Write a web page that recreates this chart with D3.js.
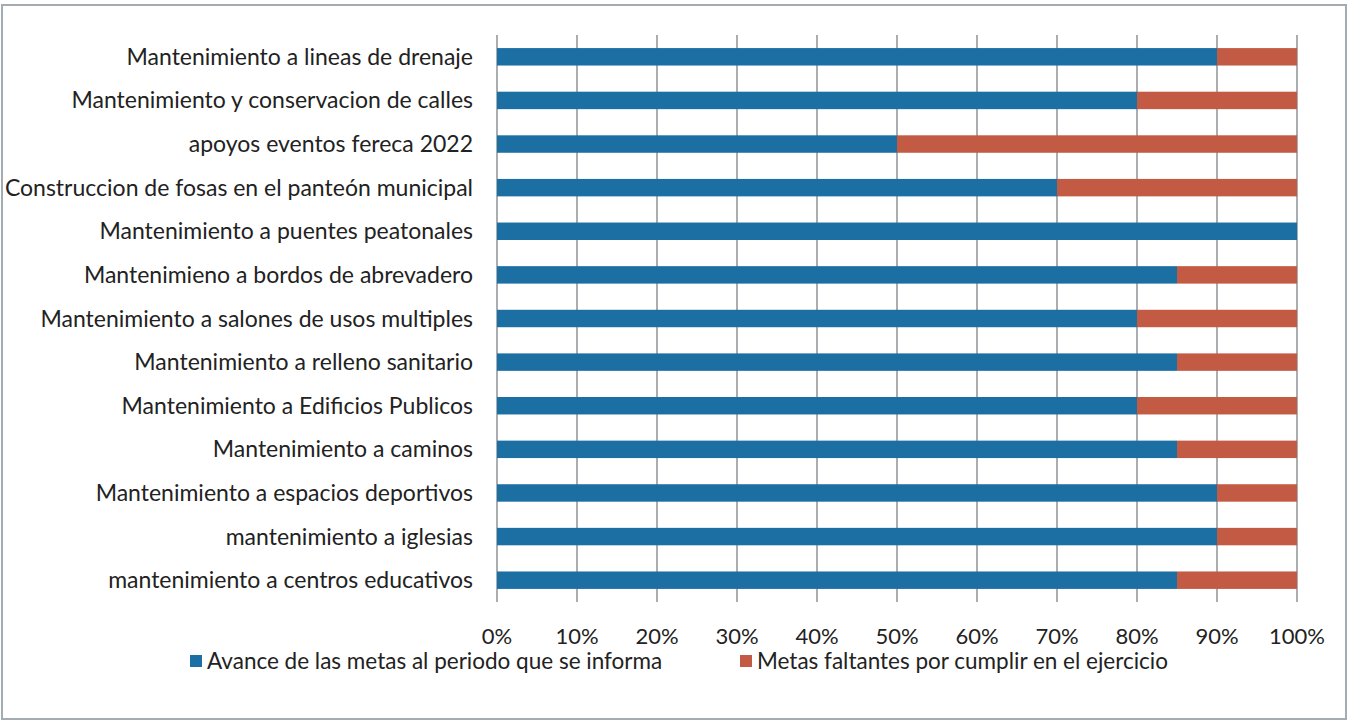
<!DOCTYPE html>
<html><head><meta charset="utf-8">
<script src="https://cdn.jsdelivr.net/npm/d3@7"></script>
<style>body{margin:0;background:#fff;} svg{display:block;}</style>
</head><body>
<svg id="c" width="1356" height="723"></svg>
<script>
const categories = [
  "Mantenimiento a lineas de drenaje",
  "Mantenimiento y conservacion de calles",
  "apoyos eventos fereca 2022",
  "Construccion de fosas en el panteón municipal",
  "Mantenimiento a puentes peatonales",
  "Mantenimieno a bordos de abrevadero",
  "Mantenimiento a salones de usos multiples",
  "Mantenimiento a relleno sanitario",
  "Mantenimiento a Edificios Publicos",
  "Mantenimiento a caminos",
  "Mantenimiento a espacios deportivos",
  "mantenimiento a iglesias",
  "mantenimiento a centros educativos"
];
const avance =    [90, 80, 50, 70, 100, 85, 80, 85, 80, 85, 90, 90, 85];
const faltantes = [10, 20, 50, 30, 0, 15, 20, 15, 20, 15, 10, 10, 15];
const seriesNames = ["Avance de las metas al periodo que se informa", "Metas faltantes por cumplir en el ejercicio"];
const tickValues = [0,10,20,30,40,50,60,70,80,90,100];

const colors = ["#1b6fa3", "#c35a44"];
const font = "Lato, 'Open Sans', sans-serif";
const textColor = "#222";
const svg = d3.select("#c");

svg.append("rect").attr("x",2).attr("y",5).attr("width",1344).attr("height",714)
  .attr("fill","#fff").attr("stroke","#a4acb3").attr("stroke-width",2);

const x = d3.scaleLinear().domain([0,100]).range([497,1297]);
const y = d3.scaleBand().domain(categories).range([35,602]).paddingInner(0.6).paddingOuter(0.3);

// gridlines
svg.append("g").selectAll("line").data(tickValues).join("line")
  .attr("x1",d=>x(d)).attr("x2",d=>x(d)).attr("y1",35).attr("y2",602)
  .attr("stroke","#8f9397").attr("stroke-width",1.5);

const rows = categories.map((c,i)=>({c, a:avance[i], f:faltantes[i]}));
const g = svg.append("g");
g.selectAll("rect.a").data(rows).join("rect").attr("class","a")
  .attr("x",x(0)).attr("y",d=>y(d.c)).attr("height",y.bandwidth())
  .attr("width",d=>x(d.a)-x(0)).attr("fill",colors[0]);
g.selectAll("rect.f").data(rows).join("rect").attr("class","f")
  .attr("x",d=>x(d.a)).attr("y",d=>y(d.c)).attr("height",y.bandwidth())
  .attr("width",d=>x(d.a+d.f)-x(d.a)).attr("fill",colors[1]);

// category labels
svg.append("g").selectAll("text").data(categories).join("text")
  .attr("x",473).attr("y",d=>y(d)+y.bandwidth()/2).attr("dy","0.35em")
  .attr("text-anchor","end").attr("font-family",font).attr("font-size",23)
  .attr("fill",textColor).text(d=>d);

// x axis labels
svg.append("g").selectAll("text").data(tickValues).join("text")
  .attr("x",d=>x(d)).attr("y",636).attr("dy","0.35em").attr("text-anchor","middle")
  .attr("font-family",font).attr("font-size",22).attr("fill",textColor)
  .text(d=>d+"%");

// legend
const legX = [190, 740];
const leg = svg.append("g").selectAll("g").data(seriesNames).join("g")
  .attr("transform",(d,i)=>`translate(${legX[i]},661)`);
leg.append("rect").attr("x",0).attr("y",-6).attr("width",12).attr("height",12)
  .attr("fill",(d,i)=>colors[i]);
leg.append("text").attr("x",17).attr("y",0).attr("dy","0.35em")
  .attr("font-family",font).attr("font-size",22.5).attr("fill",textColor).text(d=>d);
</script>
</body></html>
